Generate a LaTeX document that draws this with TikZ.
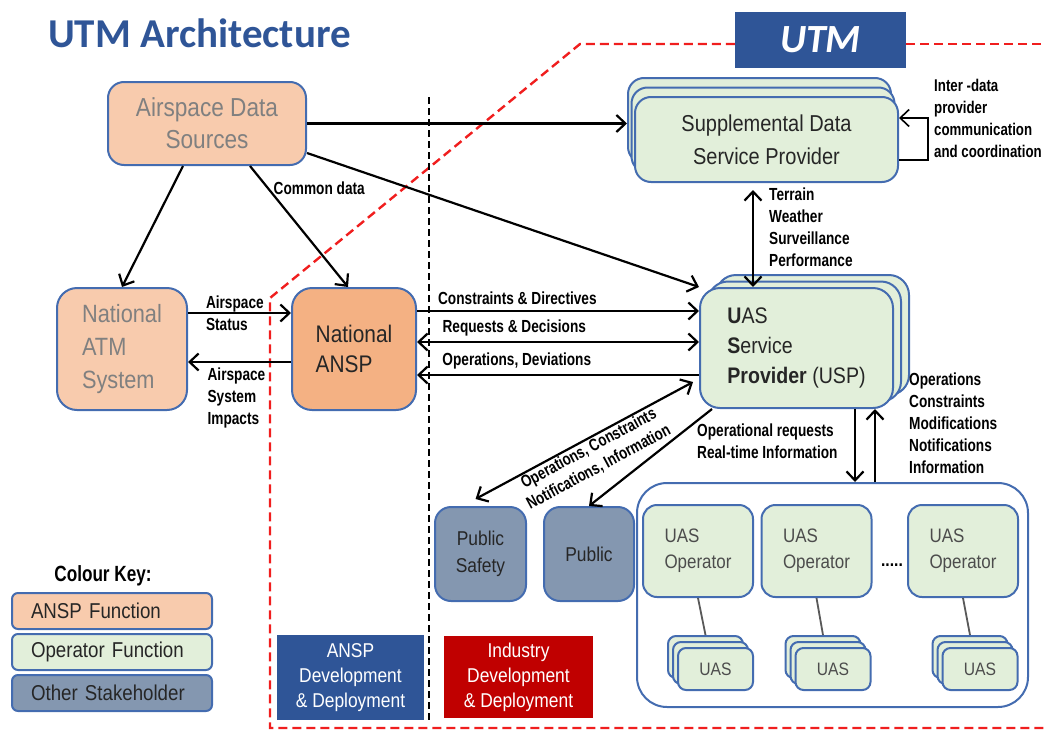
\documentclass[tikz,border=0pt]{standalone}
\usepackage{fontspec}
\setmainfont{Liberation Sans}[FakeStretch=0.87]
\newfontfamily\lblfont{Liberation Sans}[FakeStretch=0.78]
\newfontfamily\titlefont{Carlito}
\usetikzlibrary{arrows.meta,positioning,calc}
\definecolor{titleblue}{RGB}{47,85,151}
\definecolor{boxblue}{RGB}{68,108,176}
\definecolor{peach}{RGB}{248,203,173}
\definecolor{anspor}{RGB}{244,177,131}
\definecolor{opgreen}{RGB}{226,239,218}
\definecolor{stakegrey}{RGB}{132,151,176}
\definecolor{devred}{RGB}{192,0,0}
\definecolor{greytext}{RGB}{128,128,128}
\definecolor{utmred}{RGB}{240,30,30}
\tikzset{
  box/.style={draw=boxblue, line width=2pt, inner sep=0pt, align=center, text=black!85},
  ansppale/.style={box, fill=peach, text=greytext},
  anspdeep/.style={box, fill=anspor},
  opbox/.style={box, fill=opgreen},
  stakebox/.style={box, fill=stakegrey, rounded corners=16pt, minimum width=90pt, minimum height=94pt, font=\fontsize{20}{27}\selectfont},
  sdspbox/.style={opbox, rounded corners=16pt, minimum width=263pt, minimum height=85pt, font=\fontsize{23}{33}\selectfont},
  uspbox/.style={opbox, rounded corners=20pt, minimum width=193pt, minimum height=120pt, align=left, font=\fontsize{22.5}{30}\selectfont},
  operbox/.style={opbox, rounded corners=14pt, minimum width=110pt, minimum height=92pt, align=left, text=black!70, font=\fontsize{19.5}{26}\selectfont},
  uasbox/.style={opbox, rounded corners=8pt, minimum width=75pt, minimum height=42pt, text=black!70, font=\fontsize{18}{18}\selectfont},
  keybox/.style={box, rounded corners=6pt, minimum height=36pt, text width=162pt, inner xsep=19pt, align=left, font=\fontsize{21.5}{21.5}\selectfont},
  devbox/.style={minimum height=84pt, inner sep=0pt, align=center, text=white, font=\fontsize{20}{25}\selectfont},
  lbl/.style={inner sep=1pt, align=left, font=\lblfont\bfseries\fontsize{17.5}{22}\selectfont},
  arr/.style={line width=2.2pt, -{Straight Barb[length=9pt,width=17pt]}},
  dblarr/.style={line width=2.2pt, {Straight Barb[length=9pt,width=17pt]}-{Straight Barb[length=9pt,width=17pt]}},
  link/.style={draw=black!65, line width=1.8pt},
  utmbound/.style={draw=utmred, line width=2.4pt, dash pattern=on 9pt off 5pt},
  split/.style={draw=black, line width=2.2pt, dash pattern=on 7pt off 4pt},
}

\begin{document}
\begin{tikzpicture}[x=1pt, y=1pt]
\useasboundingbox (0,0) rectangle (1044,-731);

% title and UTM tag
\node[anchor=base west, inner sep=0pt, text=titleblue, font=\titlefont\bfseries\fontsize{41}{41}\selectfont] (title) at (48,-47) {UTM Architecture};
\node[fill=titleblue, minimum width=171pt, minimum height=56pt, inner sep=0pt, text=white, font=\titlefont\bfseries\itshape\fontsize{40}{40}\selectfont] (utm) at (820.5,-40) {UTM};

% boundaries
\draw[utmbound] ([yshift=-4pt]utm.west) -- (580,-44) -- (270,-298) -- (270,-728) -- (1044,-728);
\draw[utmbound] ([yshift=-4pt]utm.east) -- (1044,-44);
\draw[split] (429,-97) -- (429,-722);

% ANSP side
\node[ansppale, rounded corners=16pt, minimum width=198pt, minimum height=83pt, font=\fontsize{26}{32}\selectfont] (ads) at (207,-123.5) {Airspace Data\\Sources};
\node[ansppale, rounded corners=20pt, minimum width=130pt, minimum height=122pt, align=left, font=\fontsize{25}{33}\selectfont] (atm) at (122,-349) {National\\ATM\\System};
\node[anspdeep, rounded corners=20pt, minimum width=124pt, minimum height=122pt, align=left, font=\fontsize{24}{30}\selectfont] (ansp) at (354,-349) {National\\ANSP};

% supplemental data service providers
\foreach \d in {2,1}
  \node[sdspbox] (sdsp\d) at ({766.5-3.5*\d},{-139.5+9.5*\d}) {};
\node[sdspbox] (sdsp) at (766.5,-139.5) {Supplemental Data\\Service Provider};

% UAS service providers
\foreach \d in {2,1}
  \node[uspbox] (usp\d) at ({796.5+8*\d},{-348+6.5*\d}) {};
\node[uspbox] (usp) at (796.5,-348) {\textbf{U}AS\\\textbf{S}ervice\\\textbf{Provider} (USP)};

% other stakeholders
\node[stakebox, minimum width=91pt] (pubsafety) at (480.5,-554) {Public\\Safety};
\node[stakebox, right=16pt of pubsafety] (public) {Public};

% operators and their UAS
\node[box, fill=white, rounded corners=30pt, minimum width=391pt, minimum height=224pt] (uasops) at (832.5,-595) {};
\foreach \i/\x/\ux in {1/698/715.5, 2/816.5/833, 3/963/980} {
  \node[operbox] (op\i) at (\x,-551) {UAS\\Operator};
  \foreach \d in {2,1}
    \node[uasbox] (uas\i-\d) at ({\ux-5*\d},{-669+6*\d}) {};
  \node[uasbox] (uas\i) at (\ux,-669) {UAS};
  \draw[link] (op\i.south) -- (uas\i-2.north);
}
\node[anchor=base, inner sep=0pt, font=\bfseries\fontsize{18}{18}\selectfont] (dots) at (892,-566) {.....};

% development boxes
\node[devbox, fill=titleblue, minimum width=147pt, minimum height=85pt] (anspdev) at (350.5,-677.5) {ANSP\\Development\\\& Deployment};
\node[devbox, fill=devred, minimum width=149pt, minimum height=82pt] (inddev) at (518.5,-677) {Industry\\Development\\\& Deployment};

% colour key
\node[inner sep=0pt, font=\lblfont\bfseries\fontsize{22}{22}\selectfont] (keytitle) at (103,-576) {Colour Key:};
\node[keybox, fill=peach] (key1) at (112,-611) {ANSP Function};
\node[keybox, fill=opgreen, below=3pt of key1] (key2) {Operator Function};
\node[keybox, fill=stakegrey, below=3pt of key2] (key3) {Other Stakeholder};

% data flows
\draw[arr] (ads.east) -- (sdsp2.west |- ads.east);
\draw[arr] ([yshift=-29.5pt]ads.east) -- (usp.north west);
\draw[arr] ([xshift=-24pt]ads.south) -- (atm.north);
\draw[arr] ([xshift=43pt]ads.south) -- node[lbl, pos=0.18, right, xshift=4pt] {Common data} ([xshift=-6pt]ansp.north);
\draw[arr] ([yshift=36pt]atm.east) -- node[lbl, pos=0.455] {Airspace\\Status} ([yshift=36pt]ansp.west);
\draw[arr] ([yshift=-13pt]ansp.west) -- node[lbl, pos=0.83, below right, yshift=-4pt] {Airspace\\System\\Impacts} ([yshift=-13pt]atm.east);

\draw[arr] ([yshift=38pt]ansp.east) -- node[lbl, above=4pt, pos=0.356] {Constraints \& Directives} ([yshift=37pt]usp.west);
\draw[dblarr] ([yshift=7pt]ansp.east) -- node[lbl, above=4pt, pos=0.345] {Requests \& Decisions} ([yshift=6pt]usp.west);
\draw[arr] ([yshift=-27pt]usp.west) -- node[lbl, above=4pt, pos=0.646] {Operations, Deviations} ([yshift=-26pt]ansp.east);

\draw[arr, line width=1.6pt] ([yshift=-20.5pt]sdsp.east) -- ++(29,0) |- ([yshift=21.5pt]sdsp.east);
\node[lbl, anchor=north west, font=\lblfont\bfseries\fontsize{17}{22}\selectfont] (interlbl) at (933,-78) {Inter -data\\provider\\communication\\and coordination};

\draw[dblarr] ([xshift=-13.5pt,yshift=-7pt]sdsp.south) -- ([xshift=-43.5pt]usp.north);
\node[lbl, anchor=north west] (envlbl) at (768,-187) {Terrain\\Weather\\Surveillance\\Performance};

\draw[arr] ([xshift=58.5pt]usp.south) -- ([xshift=22.5pt]uasops.north);
\draw[arr] ([xshift=42.5pt]uasops.north) -- ([xshift=78.5pt]usp.south);
\node[lbl, anchor=north west] (reqlbl) at (696,-423) {Operational requests\\Real-time Information};
\node[lbl, anchor=north west] (opslbl) at (908,-372) {Operations\\Constraints\\Modifications\\Notifications\\Information};

\draw[dblarr] ([xshift=-5pt,yshift=7pt]pubsafety.north) -- node[lbl, align=center, sloped, below, pos=0.5, font=\lblfont\bfseries\fontsize{17}{21}\selectfont] {Operations, Constraints\\Notifications, Information} ([xshift=-6pt,yshift=-34pt]usp.west);
\draw[arr] ([xshift=13pt]usp.south west) -- (public.north);
\end{tikzpicture}
\end{document}
